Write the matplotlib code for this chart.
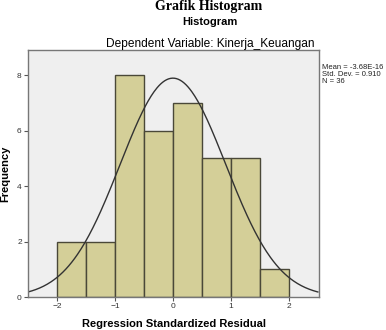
import numpy as np
import matplotlib.pyplot as plt

# histogram data
bin_edges = [-2.0, -1.5, -1.0, -0.5, 0.0, 0.5, 1.0, 1.5, 2.0]
counts = [2, 2, 8, 6, 7, 5, 5, 1]
mean = -3.68e-16
std = 0.910
n = 36

plt.rcParams['font.family'] = ['Liberation Sans', 'DejaVu Sans']

fig = plt.figure(figsize=(3.86, 3.30), dpi=100)
ax = fig.add_axes([0.0725, 0.1, 0.754, 0.748])
ax.set_facecolor('#efefef')

widths = np.diff(bin_edges)
ax.bar(bin_edges[:-1], counts, width=widths, align='edge',
       color='#d4cf98', edgecolor='#4a4838', linewidth=1.0)

# fitted normal curve scaled to the counts
xs = np.linspace(-2.5, 2.5, 300)
bw = widths[0]
ys = n * bw / (std * np.sqrt(2 * np.pi)) * np.exp(-0.5 * ((xs - mean) / std) ** 2)
ax.plot(xs, ys, color='#333333', linewidth=1.0)

ax.set_xlim(-2.5, 2.52)
ax.set_ylim(0, 8.9)
ax.set_xticks([-2, -1, 0, 1, 2])
ax.set_yticks([0, 2, 4, 6, 8])
ax.tick_params(labelsize=6, length=3, color='#555555', labelcolor='#333333', pad=1.5)
for s in ax.spines.values():
    s.set_color('#777777')
    s.set_linewidth(1.0)

ax.set_xlabel('Regression Standardized Residual', fontsize=8, fontweight='bold', labelpad=6)
ax.set_ylabel('Frequency', fontsize=8, fontweight='bold', labelpad=5)

fig.text(0.54, 1.0, 'Grafik Histogram', ha='center', va='top',
         fontsize=10, fontweight='bold', family='Liberation Serif')
fig.text(0.545, 0.933, 'Histogram', ha='center', va='center', fontsize=8, fontweight='bold')
fig.text(0.545, 0.868, 'Dependent Variable: Kinerja_Keuangan', ha='center', va='center', fontsize=8.6)

fig.text(0.835, 0.805, 'Mean = -3.68E-16\nStd. Dev. = 0.910\nN = 36',
         ha='left', va='top', fontsize=5.5, linespacing=1.0, color='#222222')

fig.savefig('out.png', dpi=100)
